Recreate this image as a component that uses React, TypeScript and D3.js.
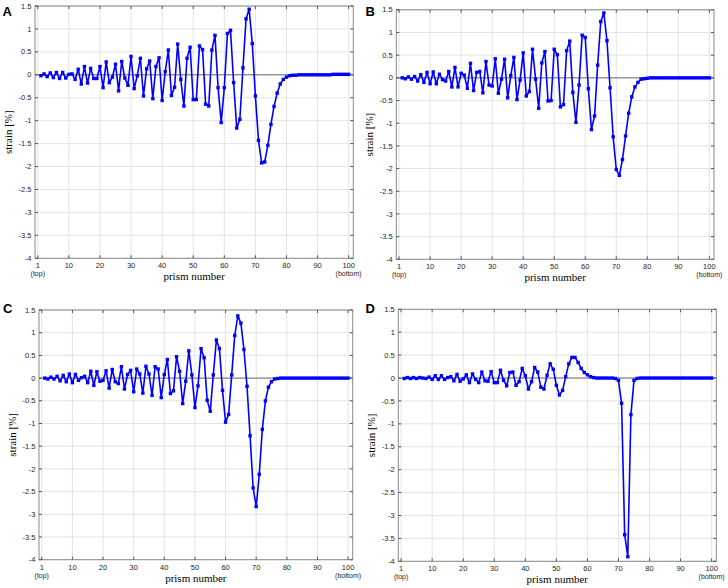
import React from 'react';
import * as d3 from 'd3';

// prism index (categories)
const prismNumbers: number[] = d3.range(1, 101);

const strainA: number[] = [
  -0.02, 0.02, -0.04, 0.04, -0.06, 0.05, -0.08, 0.05, -0.07, 0.01,
  0.02, -0.1, 0.12, -0.2, 0.18, -0.18, 0.14, -0.08, -0.08, 0.18,
  -0.28, 0.28, -0.17, -0.05, 0.23, -0.35, 0.29, -0.07, -0.23, 0.4,
  -0.3, -0.02, 0.36, -0.46, 0.13, 0.3, -0.52, 0.18, 0.37, -0.56,
  0.07, 0.54, -0.45, -0.27, 0.67, -0.1, -0.68, 0.36, 0.6, -0.54,
  -0.54, 0.63, 0.55, -0.64, -0.68, 0.54, 0.86, -0.28, -1.04, -0.28,
  0.9, 0.97, -0.17, -1.16, -0.97, 0.15, 1.22, 1.43, 0.68, -0.46,
  -1.43, -1.92, -1.9, -1.54, -1.08, -0.69, -0.4, -0.2, -0.1, -0.05,
  -0.02, -0.01, -0.01, 0, 0, 0, 0, 0, 0, 0,
  0, 0, 0, 0, 0.01, 0.01, 0.01, 0.01, 0.01, 0.01,
];

const strainB: number[] = [
  0, -0.02, 0.02, -0.03, 0.03, -0.07, 0.07, -0.1, 0.12, -0.13,
  0.13, -0.13, 0.08, -0.04, -0.07, 0.14, -0.2, 0.23, -0.2, 0.1,
  0.06, -0.23, 0.32, -0.28, 0.12, 0.14, -0.33, 0.36, -0.16, -0.18,
  0.42, -0.34, -0.03, 0.41, -0.44, 0.05, 0.45, -0.48, -0.05, 0.55,
  -0.4, -0.3, 0.63, -0.03, -0.67, 0.33, 0.58, -0.51, -0.5, 0.63,
  0.51, -0.64, -0.59, 0.6, 0.81, -0.32, -0.98, -0.16, 0.94, 0.89,
  -0.24, -1.14, -0.84, 0.28, 1.24, 1.43, 0.82, -0.22, -1.3, -2.02,
  -2.15, -1.8, -1.28, -0.78, -0.42, -0.2, -0.1, -0.03, -0.02, -0.01,
  0, 0, 0, 0, 0, 0, 0, 0, 0, 0,
  0, 0, 0, 0, 0, 0, 0, 0, 0, 0,
];

const strainC: number[] = [
  0, -0.02, 0.02, -0.02, 0.04, -0.06, 0.06, -0.08, 0.09, -0.1,
  0.08, -0.05, 0.01, 0.04, -0.1, 0.15, -0.16, 0.14, -0.07, -0.05,
  0.16, -0.22, 0.19, -0.08, -0.12, 0.25, -0.24, 0.08, 0.17, -0.3,
  0.2, 0.09, -0.33, 0.26, 0.09, -0.38, 0.25, 0.2, -0.43, 0.08,
  0.41, -0.34, -0.28, 0.47, 0.15, -0.56, -0.07, 0.6, 0.07, -0.65,
  -0.17, 0.65, 0.45, -0.49, -0.73, 0.07, 0.84, 0.65, -0.27, -0.97,
  -0.8, 0.07, 0.94, 1.37, 1.21, 0.63, -0.18, -1.27, -2.42, -2.83,
  -2.12, -1.13, -0.5, -0.2, -0.08, -0.02, -0.01, 0, 0, 0,
  0, 0, 0, 0, 0, 0, 0, 0, 0, 0,
  0, 0, 0, 0, 0, 0, 0, 0, 0, 0,
];

const strainD: number[] = [
  -0.01, 0.01, -0.01, 0.01, -0.01, 0.01, 0, -0.01, 0.02, -0.03,
  0.05, -0.03, 0.05, -0.03, 0.01, 0.03, -0.06, 0.08, -0.07, -0.02,
  0.07, -0.1, 0.09, -0.03, -0.1, 0.13, -0.06, -0.07, 0.14, -0.1,
  -0.1, 0.17, -0.05, -0.17, 0.12, 0.13, -0.16, -0.08, 0.21, 0.05,
  -0.24, -0.08, 0.23, 0.13, -0.2, -0.24, 0.06, 0.31, 0.19, -0.16,
  -0.37, -0.27, 0.03, 0.31, 0.45, 0.45, 0.34, 0.21, 0.12, 0.07,
  0.03, 0.01, 0, 0, 0, 0, 0, 0, -0.01, -0.05,
  -0.55, -3.42, -3.9, -0.8, -0.05, -0.01, 0, 0, 0, 0,
  0, 0, 0, 0, 0, 0, 0, 0, 0, 0,
  0, 0, 0, 0, 0, 0, 0, 0, 0, 0,
];

const panelLetters = ['A', 'B', 'C', 'D'];
const yTicks = [1.5, 1, 0.5, 0, -0.5, -1, -1.5, -2, -2.5, -3, -3.5, -4];
const yTickLabels = ['1.5', '1', '0.5', '0', '-0.5', '-1', '-1.5', '-2', '-2.5', '-3', '-3.5', '-4'];
const xTicks = [0, 10, 20, 30, 40, 50, 60, 70, 80, 90, 100];
const xTickLabels = ['1', '10', '20', '30', '40', '50', '60', '70', '80', '90', '100'];
const xTickSubLabels = ['(top)', '', '', '', '', '', '', '', '', '', '(bottom)'];
const xTitle = 'prism number';
const yTitle = 'strain [%]';

type Box = { left: number; right: number; top: number; bottom: number; lx: number; ly: number };

const boxes: Box[] = [
  { left: 35, right: 353.3, top: 6, bottom: 258.3, lx: 2.5, ly: 16 },
  { left: 396.3, right: 714, top: 9.8, bottom: 259.3, lx: 365.5, ly: 15.5 },
  { left: 39, right: 352.7, top: 310, bottom: 559.7, lx: 3, ly: 313 },
  { left: 398.3, right: 716.3, top: 309.3, bottom: 561.3, lx: 365.5, ly: 313 },
];

const sans = 'Liberation Sans, Arial, sans-serif';
const serif = 'Liberation Serif, Times New Roman, serif';

function Panel({ letter, values, box }: { letter: string; values: number[]; box: Box }) {
  const x = d3.scaleLinear().domain([-0.9, 101.5]).range([box.left, box.right]);
  const y = d3.scaleLinear().domain([-4, 1.5]).range([box.bottom, box.top]);
  const line = d3
    .line<number>()
    .x((_, i) => x(prismNumbers[i]))
    .y((d) => y(d));
  const tl = 3;
  return (
    <g>
      {/* grid */}
      {xTicks.map((t) => (
        <line key={'gx' + t} x1={x(t)} x2={x(t)} y1={box.top} y2={box.bottom} stroke="#e3e3e3" strokeWidth={1} />
      ))}
      {yTicks.map((t) => (
        <line key={'gy' + t} x1={box.left} x2={box.right} y1={y(t)} y2={y(t)} stroke="#e3e3e3" strokeWidth={1} />
      ))}
      {/* zero line */}
      <line x1={box.left} x2={box.right} y1={y(0)} y2={y(0)} stroke="#6e6e6e" strokeWidth={1} />
      {/* frame */}
      <rect x={box.left} y={box.top} width={box.right - box.left} height={box.bottom - box.top} fill="none" stroke="#8a8a8a" strokeWidth={1} />
      {/* ticks */}
      {xTicks.map((t) => (
        <g key={'tx' + t}>
          <line x1={x(t)} x2={x(t)} y1={box.bottom} y2={box.bottom - tl} stroke="#555" />
          <line x1={x(t)} x2={x(t)} y1={box.top} y2={box.top + tl} stroke="#555" />
        </g>
      ))}
      {yTicks.map((t) => (
        <g key={'ty' + t}>
          <line x1={box.left} x2={box.left + tl} y1={y(t)} y2={y(t)} stroke="#555" />
          <line x1={box.right} x2={box.right - tl} y1={y(t)} y2={y(t)} stroke="#555" />
        </g>
      ))}
      {/* data */}
      <path d={line(values) || ''} fill="none" stroke="#0000ff" strokeWidth={1.6} strokeLinejoin="round" />
      {values.map((v, i) => (
        <rect key={'m' + i} x={x(prismNumbers[i]) - 1.7} y={y(v) - 1.7} width={3.4} height={3.4} fill="#0000ff" />
      ))}
      {/* y tick labels */}
      {yTicks.map((t, i) => (
        <text key={'yl' + t} x={box.left - 3.5} y={y(t)} dy="0.35em" textAnchor="end" fontFamily={sans} fontSize={7.5} fill="#262626">
          {yTickLabels[i]}
        </text>
      ))}
      {/* x tick labels */}
      {xTicks.map((t, i) => (
        <g key={'xl' + t}>
          <text x={x(t)} y={box.bottom + 9.8} textAnchor="middle" fontFamily={sans} fontSize={7.5} fill="#262626">
            {xTickLabels[i]}
          </text>
          {xTickSubLabels[i] ? (
            <text x={x(t)} y={box.bottom + 17.8} textAnchor="middle" fontFamily={sans} fontSize={7} fill="#262626">
              {xTickSubLabels[i]}
            </text>
          ) : null}
        </g>
      ))}
      {/* axis titles */}
      <text x={(box.left + box.right) / 2} y={box.bottom + 22} textAnchor="middle" fontFamily={serif} fontSize={11} fill="#000">
        {xTitle}
      </text>
      <text
        transform={`translate(${box.left - 23},${(box.top + box.bottom) / 2}) rotate(-90)`}
        textAnchor="middle"
        fontFamily={serif}
        fontSize={11}
        fill="#000"
      >
        {yTitle}
      </text>
      {/* panel letter */}
      <text x={box.lx} y={box.ly} fontFamily={sans} fontWeight="bold" fontSize={13} fill="#000">
        {letter}
      </text>
    </g>
  );
}

const series = [strainA, strainB, strainC, strainD];

export default function App() {
  return (
    <svg
      width={728}
      height={588}
      viewBox="0 0 728 588"
      style={{ position: 'absolute', left: 0, top: 0, background: '#fff' }}
    >
      <rect x={0} y={0} width={728} height={588} fill="#fff" />
      {series.map((s, i) => (
        <Panel key={panelLetters[i]} letter={panelLetters[i]} values={s} box={boxes[i]} />
      ))}
    </svg>
  );
}
